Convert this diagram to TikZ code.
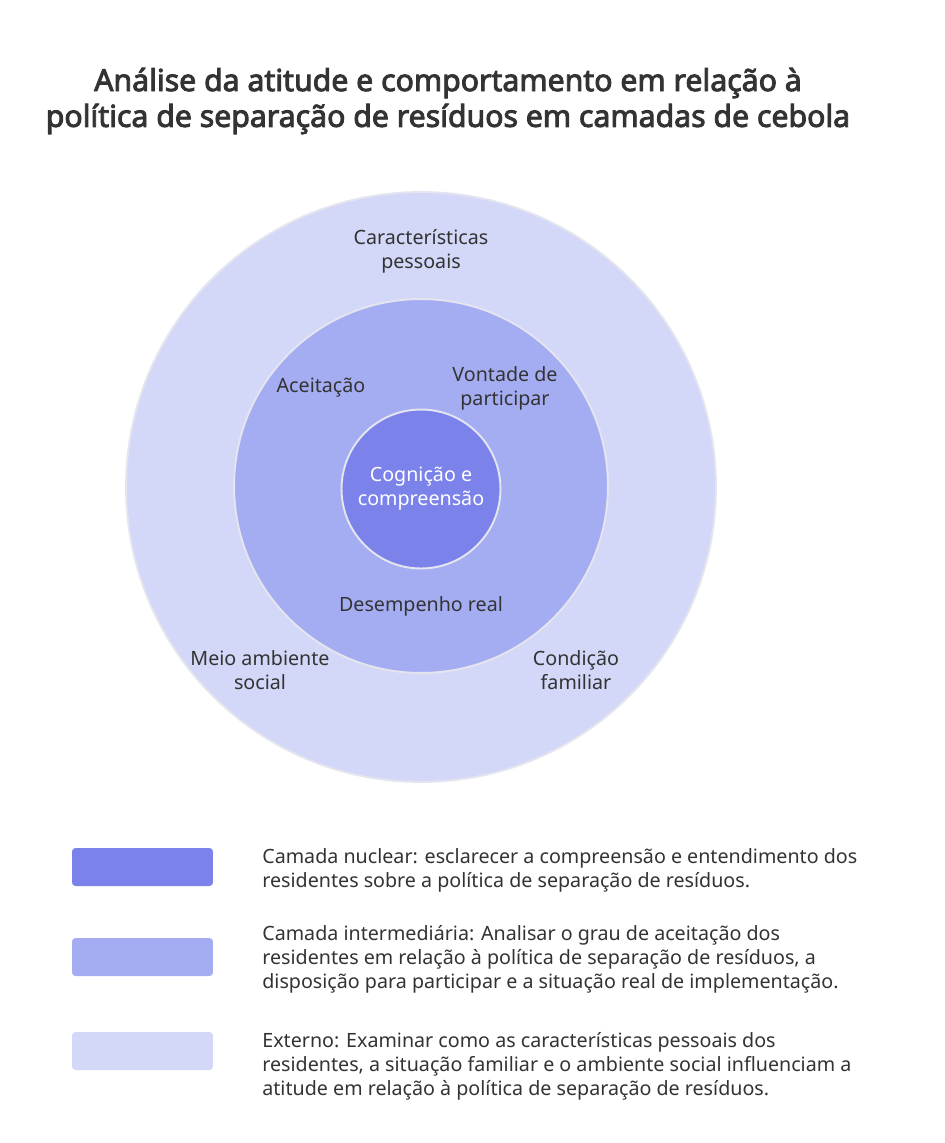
\documentclass[tikz,border=0pt]{standalone}
\usepackage{fontspec}
\setmainfont{Noto Sans}[AutoFakeBold=3]
\definecolor{core}{HTML}{7B83EB}
\definecolor{mid}{HTML}{A5ADF2}
\definecolor{outer}{HTML}{D3D7F8}
\definecolor{ink}{HTML}{333333}
\definecolor{rim}{HTML}{E4E5EE}
\begin{document}
\begin{tikzpicture}[x=0.02cm, y=-0.02cm,
  layer/.style={circle, draw=rim, line width=1.1pt, inner sep=0pt, align=center},
  lbl/.style={align=center, text=ink, font=\fontsize{11.2}{13.6}\selectfont},
  swatch/.style={rounded corners=2pt, minimum width=2.82cm, minimum height=0.76cm, inner sep=0pt},
  desc/.style={anchor=west, align=left, text=ink, inner sep=0pt, font=\fontsize{11.2}{13.6}\selectfont}]
\useasboundingbox[fill=white] (0,0) rectangle (945,1143);
% title
\node (title) [align=center, text=ink, font=\fontsize{17.2}{20.4}\selectfont\bfseries] at (448,101)
  {Análise da atitude e comportamento em relação à\\política de separação de resíduos em camadas de cebola};
% onion layers
\node (outer) [layer, fill=outer, minimum size=11.8cm] at (421,487) {};
\node (mid) [layer, fill=mid, minimum size=7.48cm] at (421,486) {};
\node (core) [layer, fill=core, minimum size=3.18cm, text=white, font=\fontsize{11.2}{13.6}\selectfont] at (421,489) {Cognição e\\compreensão};
% layer labels
\node (pessoais) [lbl] at (421,251) {Características\\pessoais};
\node (aceit) [lbl] at (321,388) {Aceitação};
\node (vontade) [lbl] at (505,388) {Vontade de\\participar};
\node (desemp) [lbl] at (421,606) {Desempenho real};
\node (social) [lbl] at (260,670) {Meio ambiente\\social};
\node (familiar) [lbl] at (576,670) {Condição\\familiar};
% legend
\node (sw1) [swatch, fill=core] at (142.5,867) {};
\node (sw2) [swatch, fill=mid] at (142.5,957) {};
\node (sw3) [swatch, fill=outer] at (142.5,1051) {};
\node (d1) [desc] at (262,870) {Camada nuclear: esclarecer a compreensão e entendimento dos\\residentes sobre a política de separação de resíduos.};
\node (d2) [desc] at (262,959) {Camada intermediária: Analisar o grau de aceitação dos\\residentes em relação à política de separação de resíduos, a\\disposição para participar e a situação real de implementação.};
\node (d3) [desc] at (262,1066) {Externo: Examinar como as características pessoais dos\\residentes, a situação familiar e o ambiente social influenciam a\\atitude em relação à política de separação de resíduos.};
\end{tikzpicture}
\end{document}
